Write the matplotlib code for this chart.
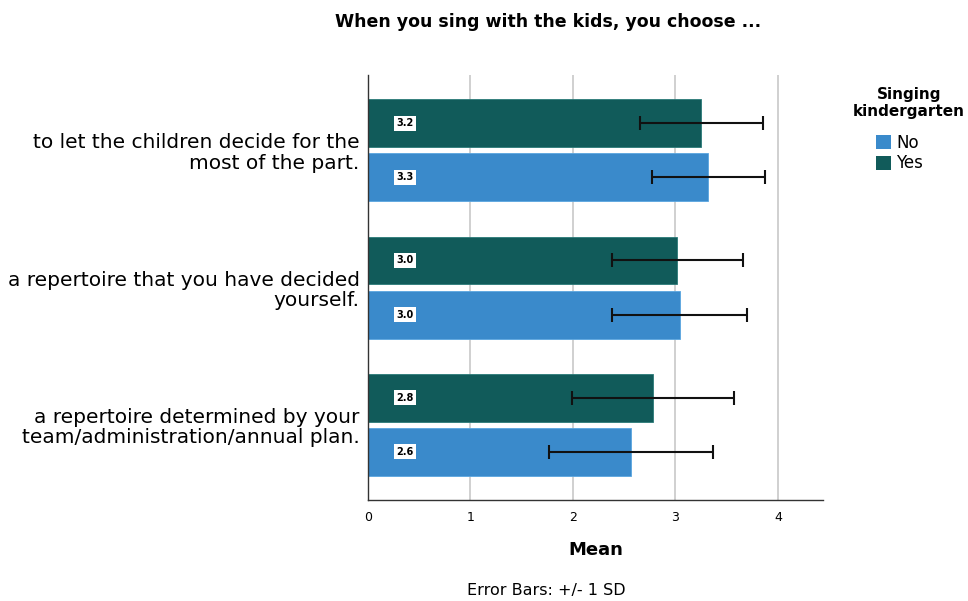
import numpy as np
import matplotlib
matplotlib.use('Agg')
import matplotlib.pyplot as plt
from matplotlib.patches import Patch

categories = ['to let the children decide for the\nmost of the part.',
              'a repertoire that you have decided\nyourself.',
              'a repertoire determined by your\nteam/administration/annual plan.']
groups = ['No', 'Yes']
mean_no = [3.32, 3.04, 2.57]
sd_no = [0.55, 0.66, 0.80]
mean_yes = [3.25, 3.02, 2.78]
sd_yes = [0.60, 0.64, 0.79]

col_no = '#3a8acb'
col_yes = '#115b5a'

fig = plt.figure(figsize=(9.68, 6.01), dpi=100)
ax = fig.add_axes([368/968, 1-500/601, (823-368)/968, (500-75)/601])

y = np.arange(len(categories))
h = 0.35
off = 0.197

ax.barh(y - off, mean_yes, height=h, color=col_yes, edgecolor='#2a7a78', linewidth=0.6, zorder=2)
ax.barh(y + off, mean_no, height=h, color=col_no, edgecolor='#5aa6e0', linewidth=0.6, zorder=2)
ax.errorbar(mean_yes, y - off, xerr=sd_yes, fmt='none', ecolor='#111111',
            elinewidth=1.5, capsize=5, capthick=1.5, zorder=3)
ax.errorbar(mean_no, y + off, xerr=sd_no, fmt='none', ecolor='#111111',
            elinewidth=1.5, capsize=5, capthick=1.5, zorder=3)

box = dict(boxstyle='square,pad=0.25', facecolor='white', edgecolor='none')
for i in range(len(categories)):
    ax.text(0.36, y[i] - off, '%.1f' % mean_yes[i], ha='center', va='center',
            fontsize=7, fontweight='bold', bbox=box, zorder=4)
    ax.text(0.36, y[i] + off, '%.1f' % mean_no[i], ha='center', va='center',
            fontsize=7, fontweight='bold', bbox=box, zorder=4)

ax.set_xlim(0, 4.44)
ax.set_ylim(2.55, -0.55)
ax.set_xticks([0, 1, 2, 3, 4])
ax.set_yticks(y)
ax.set_yticklabels(categories, fontsize=14.5, linespacing=1.1)
ax.tick_params(axis='y', length=0, pad=6)
ax.tick_params(axis='x', length=0, pad=8, labelsize=9)
ax.grid(axis='x', color='#c8c8c8', linewidth=1.2, zorder=0)
ax.set_axisbelow(True)
for s in ['top', 'right']:
    ax.spines[s].set_visible(False)
for s in ['left', 'bottom']:
    ax.spines[s].set_color('#333333')
    ax.spines[s].set_linewidth(1.0)

ax.set_xlabel('Mean', fontsize=13, fontweight='bold', labelpad=12)

fig.text(548/968, 1-22/601, 'When you sing with the kids, you choose ...',
         ha='center', va='center', fontsize=12.5, fontweight='bold')
fig.text(546/968, 1-590/601, 'Error Bars: +/- 1 SD', ha='center', va='center', fontsize=11.5)

# legend title placed by hand so it fits at the right edge
fig.text(909/968, 1-103/601, 'Singing\nkindergarten', ha='center', va='center',
         fontsize=11, fontweight='bold', linespacing=1.15)
handles = [Patch(facecolor=col_no), Patch(facecolor=col_yes)]
leg = fig.legend(handles, groups, loc='upper left', bbox_to_anchor=(876/968, 1-134/601),
                 frameon=False, fontsize=12,
                 handlelength=0.9, handleheight=0.9, handletextpad=0.3,
                 labelspacing=0.15, borderpad=0, borderaxespad=0)

fig.savefig('out.png', dpi=100)
